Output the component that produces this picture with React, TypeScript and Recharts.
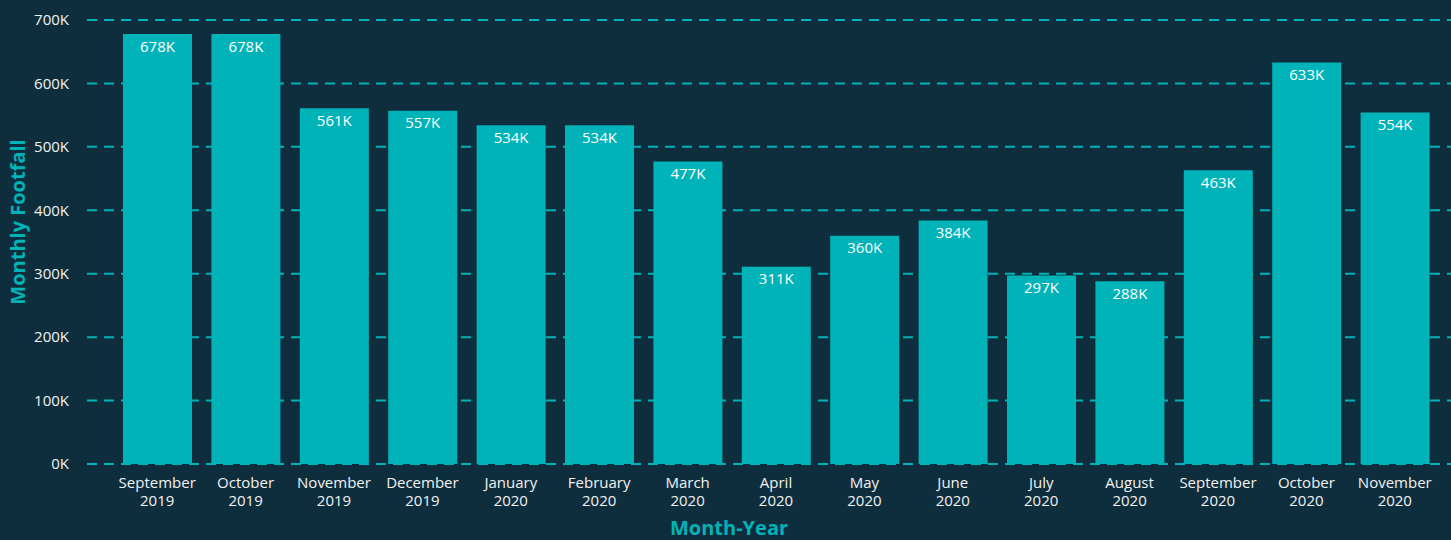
import React from "react";
import { BarChart, Bar, XAxis, YAxis, CartesianGrid, LabelList } from "recharts";

const months = [
  "September", "October", "November", "December", "January", "February", "March",
  "April", "May", "June", "July", "August", "September", "October", "November",
];
const years = [
  "2019", "2019", "2019", "2019", "2020", "2020", "2020",
  "2020", "2020", "2020", "2020", "2020", "2020", "2020", "2020",
];
const footfall = [
  678000, 678000, 561000, 557000, 534000, 534000, 477000,
  311000, 360000, 384000, 297000, 288000, 463000, 633000, 554000,
];
const yTicks = [0, 100000, 200000, 300000, 400000, 500000, 600000, 700000];

const C = {
  bg: "#0f2e3d",
  bar: "#00b3b8",
  grid: "#00b3b8",
  text: "#f2f2f2",
  title: "#00b3b8",
};
const FONT = "'Segoe UI', 'Open Sans', sans-serif";

const data = months.map((m, i) => ({ name: `${m} ${years[i]}`, month: m, year: years[i], value: footfall[i] }));

const fmtK = (v: number) => `${Math.round(v / 1000)}K`;

function MonthTick({ x, y, index }: any) {
  const d = data[index] || { month: "", year: "" };
  return (
    <text x={x} y={y} textAnchor="middle" fill={C.text} fontSize={15} fontFamily={FONT}>
      <tspan x={x} dy={16}>{d.month}</tspan>
      <tspan x={x} dy={18}>{d.year}</tspan>
    </text>
  );
}

export default function App() {
  return (
    <div style={{ position: "absolute", left: 0, top: 0, width: 1451, height: 540, background: C.bg }}>
      <BarChart
        width={1451}
        height={540}
        data={data}
        margin={{ top: 20, right: 0, left: 0, bottom: 0 }}
        barSize={69}
      >
        <CartesianGrid stroke={C.grid} strokeWidth={2} strokeDasharray="10 7" vertical={false} />
        <XAxis
          dataKey="name"
          interval={0}
          axisLine={false}
          tickLine={false}
          height={76}
          padding={{ left: 26, right: 12 }}
          tick={<MonthTick />}
          label={{
            content: () => (
              <text x={729} y={535} textAnchor="middle" fill={C.title} fontSize={20} fontWeight="bold" fontFamily={FONT}>
                Month-Year
              </text>
            ),
          }}
        />
        <YAxis
          width={87}
          domain={[0, 700000]}
          ticks={yTicks}
          axisLine={false}
          tickLine={false}
          tickFormatter={fmtK}
          tickMargin={12}
          tick={{ fill: C.text, fontSize: 15, fontFamily: FONT }}
          label={{
            content: () => (
              <text
                x={25}
                y={222}
                transform="rotate(-90, 25, 222)"
                textAnchor="middle"
                fill={C.title}
                fontSize={20}
                fontWeight="bold"
                fontFamily={FONT}
              >
                Monthly Footfall
              </text>
            ),
          }}
        />
        <Bar dataKey="value" fill={C.bar} isAnimationActive={false}>
          <LabelList
            dataKey="value"
            position="insideTop"
            offset={7}
            formatter={(v: any) => fmtK(Number(v))}
            style={{ fill: "#ffffff", fontSize: 15, fontFamily: FONT }}
          />
        </Bar>
      </BarChart>
    </div>
  );
}
